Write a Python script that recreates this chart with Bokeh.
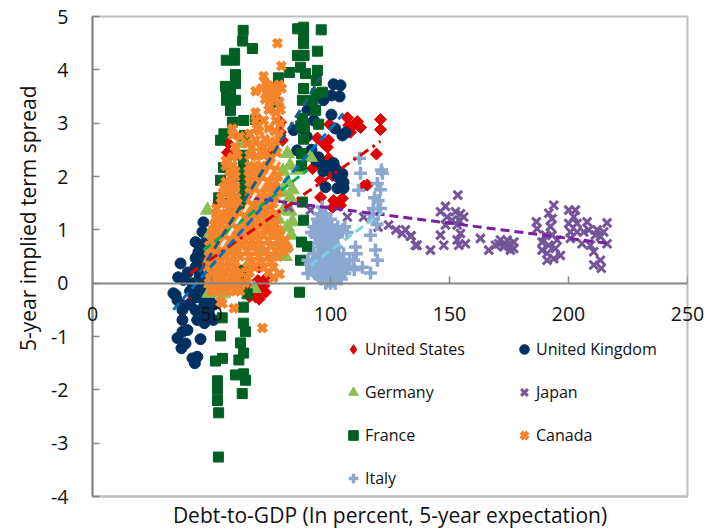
from bokeh.plotting import figure
from bokeh.models import LinearAxis, FixedTicker, Range1d, Legend, LegendItem, Title
from bokeh.embed import file_html
from bokeh.resources import INLINE

FONT = "Open Sans"

us = [(121,3.07),(121,2.88),(119.3,2.42),(107.1,3.1),(111.3,3.03),(112.6,2.92),(107.6,2.96),(108.4,2.83),(110,2.98),(99.6,2.98),
      (99.2,2.68),(98.7,2.55),(94.5,2.72),(97,2.62),(79,3.02),(79,2.83),(79.8,2.68),(74,2.43),(57.1,2.62),(56.7,2.45),(99.2,2.34),(101,2.2),
      (95.8,1.93),(95.8,1.61),(101.3,1.55),(105,1.59),(100.8,1.42),(104.2,1.46),(100.8,2.02),(115.5,1.84),(114,1.82),(92.4,2.15),
      (70.6,-0.13),(68.5,-0.26),(71.8,0.02),(69.5,0.05),(72.7,-0.17),(66,-0.1),(67,-0.2),(53,1.5),(47,0.0),(42,-0.3),(60,1.3),(75,1.0),(70,0.3),
      (66,-0.25),(70,-0.3),(72,-0.05),(73,0.1),(69,-0.05)]

uk = [(101.3,3.73),(104.2,3.71),(100.4,3.52),(103.8,3.5),(97,3.43),(90.3,3.24),(93,3.05),(100.4,3.16),(102,2.9),(105,2.77),(106.3,2.82),
      (84.5,2.87),(86,2.49),(95,2.36),(95.8,2.25),(101.3,2.25),(102,2.15),(97,2.1),(99,2.2),(103.4,1.99),(105.5,1.89),(102.9,1.78),(105.5,1.78),
      (97.9,1.8),(103,2.0),(105,2.05),(94,2.3),(92,2.5),(90,2.75),(88,2.9),
      (46.6,1.14),(46.2,0.96),(43.3,0.77),(47,0.75),(44.5,0.58),(37,0.37),(43.3,0.47),(43.3,0.3),(36,0.11),(38.2,0.06),(40,0.2),(34,-0.19),
      (35.7,-0.32),(37.8,-0.41),(41,-0.4),(37.8,-0.69),(44,-0.26),(43.3,-0.51),(45.4,-0.63),(47,-0.4),(46,-0.1),(48,0.1),(34.9,-0.22),
      (37.8,-0.5),(39.9,-0.88),(37.8,-0.91),(35.7,-1.03),(39.1,-1.13),(37.4,-1.22),(45.4,-1.05),(44,-1.38),(42,-1.41),(43,-1.5),(44,-0.69),
      (50.8,-0.69),(47,-0.75),(48,-0.55),(49,-0.3),(50,-0.05),
      (48,0.35),(47,0.55),(45,0.15),(42,0),(41,-0.15),(46,-0.25),(44,-0.05),(49,-0.6),(51,-0.4),(45,0.4)]

germany = [(48.3,1.37),(80.3,1.37),(81.9,1.05),(79,0.75),(81.9,2.43),(88.7,2.36),(91.6,2.36),(86,2.12),(83,2.2),(80,2.1),(49.6,0.94),(48.9,0.43),
           (48.9,-0.19),(49.6,0),(62,2.62),(69.3,1.6),(67,1.05),(75,1.6),(78,1.2),(76,0.9),(73,1.1),(71,0.6),(77,0.5),(50,0.65),(52,1.2),(53,0.2),
           (58,1.7),(83,1.6),(84,1.75),(82,1.9),(77,1.8),(60,0.1),(68,-0.1),(55,-0.2),(66,0.4),(72,2.0),
           (83,1.35),(84,1.15),(83.5,0.9),(81.5,0.7),(80,1.7),(81,0.5)]

japan = [(153.5,1.65),(148.3,1.44),(146.2,1.34),(149,1.24),(152.5,1.34),(154.6,1.3),(151.1,1.18),(153.9,1.18),(156,1.24),(148.3,1.09),(153.2,1.09),
         (154.6,.93),(146.2,.9),(147.6,.71),(153.9,.71),(156.7,.74),(153.2,.81),(142,.62),(136.4,.71),(133.9,.89),(131.5,1.0),(130.1,.93),
         (163,.84),(166.5,.62),(169.3,.71),(171.4,.81),(174.2,.81),(177,.77),(172.8,.68),(175.6,.62),(170.7,.74),(177,.65),(174.9,.71),
         (186.5,1.15),(186.8,1.02),(193.8,1.46),(191.7,1.31),(193.1,1.21),(192.4,1.06),(190.3,.9),(193.1,.9),(195.2,.81),(188.9,.77),(191.7,.71),
         (194.5,.65),(188.9,.62),(191,.56),(196.6,.52),(191,.43),(193.8,.46),(200.1,1.37),(202.9,1.37),(202.2,1.24),(200.1,1.12),(203.6,1.12),
         (200.8,.96),(203.6,.96),(200.8,.84),(207.8,1.15),(206.4,.96),(208.5,1.0),(205.7,.74),(216.2,1.13),(212,1.0),(214.8,.96),(213.4,.87),
         (211.3,.9),(216.2,.74),(210.6,.59),(213.4,.43),(210.6,.34),(213.8,.28),(209.2,.71),
         (124.4,1.09),(127.5,1.0),(133.6,.88),(135.7,.71),(107.1,1.24),(113.9,1.24),(82.4,1.42),(91.6,1.37),(73.5,1.37),(67.6,1.59),(120,1.05)]

france = [(63.3,4.74),(63.1,4.54),(67.2,4.4),(59.7,4.31),(56.2,4.18),(59.7,4.18),(60.1,3.91),(55.9,3.69),(60.1,3.74),(58,3.6),(56.3,3.55),(60.1,3.43),
          (56.3,3.43),(58,3.24),(63.5,3.05),(68.4,3.07),(58.8,3.02),(55.2,2.8),(53.8,2.68),(63.9,2.77),
          (86.2,4.77),(88.7,4.8),(96.1,4.75),(88.7,4.65),(88.7,4.49),(86.1,4.27),(88.9,4.27),(94.5,4.35),(87.4,4.05),(82.8,3.95),(89.5,3.93),(78.1,3.85),
          (94.5,3.99),(94,3.8),(88.7,3.65),(96.6,3.58),(94,3.55),(88.2,3.43),(92.5,3.43),(76.9,3.39),(93.7,3.24),(88.2,3.09),(87.5,2.95),(89,2.92),
          (95,2.98),(88.7,2.7),(87.8,2.43),(87.8,2.2),
          (88.2,1.52),(88.7,1.18),(87.8,0.77),(90.3,0.69),(87.4,0.43),(87,-0.17),(63,2.4),(63.5,2.2),(62.5,2.0),(64,1.8),(63,1.6),(64,1.4),(63.5,0.24),
          (64,0.1),(65,-0.2),(53,1.6),(55,2.17),(53.8,1.93),(58,1.5),
          (54.5,-0.65),(63.4,-0.45),(63.4,-0.75),(64.3,-0.91),(53.8,-0.99),(62.2,-1.12),(63.5,-1.31),(54.6,-1.41),(51.7,-1.46),(61.5,-1.44),(60.1,-1.72),
          (64.3,-1.82),(52.5,-1.83),(52.5,-2),(62.9,-2.07),(52.5,-2.2),(53,-2.43),(52.9,-3.26),(63.5,-1.7)]

canada = [(77.7,4.5),(79.4,4.07),(71.9,3.88),(72.6,3.75),(76,3.7),(78.5,3.72),(68.5,3.6),(71,3.65),(73.5,3.6),(75.5,3.55),(77.5,3.6),(79.5,3.65),
          (72.5,3.45),(74.5,3.4),(76.5,3.45),(78.5,3.4),(74,3.25),(77,3.2),(79,3.25),(68.5,3.2),(68.5,3.05),(69,2.9),(77,3.05),(79,3.0),(76.5,2.85),
          (78.5,2.8),(77,2.65),(75.5,2.55),(77.5,2.45),(75,2.35),(72,3.05),(74,2.9),(72.5,2.7),(74.5,2.65),
          (58.8,2.9),(58.8,2.78),(60,2.55),(65,2.62),(68.5,2.68),(70.6,2.55),(58.8,2.36),(61,2.4),(66,2.4),(69,2.38),(72,2.4),(56,2.3),
          (56,2.2),(59,2.2),(66,2.2),(68,2.2),(71,2.2),(74,2.2),(77,2.2),
          (57.5,2.1),(60,2.1),(65.5,2.1),(67,2.1),(70,2.1),(73,2.1),(76,2.1),
          (58,2.0),(60,2.0),(66,2.0),(69,2.0),(72,2.0),(75,2.0),(78,2.0),
          (56,1.9),(59,1.9),(66,1.9),(68,1.9),(71,1.9),(74,1.9),(77,1.9),
          (55,1.8),(57,1.8),(60,1.8),(67,1.8),(70,1.8),(73,1.8),(76,1.8),
          (55,1.7),(59,1.7),(66,1.7),(69,1.7),(72,1.7),(75,1.7),(78,1.7),
          (54,1.6),(58,1.6),(60.5,1.6),(66.5,1.6),(68,1.6),(71,1.6),(74,1.6),(77,1.6),
          (54,1.5),(56,1.5),(59,1.5),(61,1.5),(66,1.5),(68,1.5),(71,1.5),(73,1.5),(76,1.5),
          (52,1.4),(57,1.4),(60,1.4),(66,1.4),(69,1.4),(72,1.4),(75,1.4),
          (52,1.3),(54,1.3),(56,1.3),(59,1.3),(62,1.3),(65,1.3),(68,1.3),(71,1.3),(74,1.3),(77,1.3),
          (52,1.2),(55,1.2),(58,1.2),(61,1.2),(64,1.2),(67,1.2),(70,1.2),(73,1.2),(76,1.2),
          (51,1.1),(54,1.1),(57,1.1),(60,1.1),(63,1.1),(66,1.1),(69,1.1),(71,1.1),(74,1.1),(77,1.1),
          (50.5,1.0),(53,1.0),(56,1.0),(59,1.0),(62,1.0),(65,1.0),(68,1.0),(72,1.0),(75,1.0),(78,1.0),
          (50,.9),(52,.9),(54,.9),(57,.9),(60,.9),(63,.9),(66,.9),(69,.9),(72,.9),(76,.9),(79,.9),
          (50,0.8),(52,0.8),(55,0.8),(58,0.8),(61,0.8),(64,0.8),(67,0.8),(70,0.8),(74,0.8),(78,0.8),(81,0.8),
          (49,.7),(51,.7),(54,.7),(57,.7),(60,.7),(63,.7),(66,.7),(68,.7),(71,.7),(75,.7),(79,.7),
          (49,0.6),(52,0.6),(55,0.6),(58,0.6),(61,0.6),(65,0.6),(69,0.6),(73,0.6),(77,0.6),(80,0.6),(82,0.65),
          (49,.5),(51,.5),(53,.5),(56,.5),(59,.5),(62,.5),(66,.5),(70,.5),(74,.5),(78,.5),
          (49,0.4),(51,0.4),(54,0.4),(57,0.4),(60,0.4),(67,0.4),(71,0.4),(75,0.4),
          (48.5,.3),(51,.3),(54,.3),(57,.3),(60,.3),(65,.3),(68,.3),(72,.3),(76,.3),
          (50,0.2),(53,0.2),(56,0.2),(59,0.2),(62,0.2),(66,0.2),(74,0.2),(78.6,0.17),
          (49,.1),(52,.1),(55,.1),(58,.1),(61,.1),(65,.1),(76,.1),
          (49,0.0),(52,0.0),(55,0.0),(58,0.0),(61,0.0),(64,0.0),
          (50,-.05),(53,-.05),(56,-.05),(59,-.05),(62,-.05),
          (50,-0.15),(53,-0.15),(57,-0.15),(60,-0.15),(62,-0.15),
          (53.8,-0.35),(59.4,-0.47),(54.6,-0.38),(71.4,-0.84),
          (62,2.75),(66,2.8),(70,2.85),(67,2.55),(72,2.55)]

italy = [(96.5,1.43),(95.5,1.3),(98,1.3),(94.5,1.2),(97,1.2),(100,1.2),(93,1.06),(95.5,1.06),(98,1.06),(100.5,1.06),(103,1.06),(106,1.06),
         (92,.95),(95,.95),(98,.95),(101,.95),(104,.95),(107,.95),(94,.87),(97,.87),(100,.87),(103,.87),(95,.75),(98,.75),(101,.75),
         (95,.68),(97.5,.68),(100,.68),(102.5,.68),(93,.55),(96,.55),(99,.55),(102,.55),(105.5,.55),
         (90.5,.43),(93,.43),(96,.43),(99,.43),(102,.43),(105,.43),(108,.43),(92,.3),(95,.3),(98,.3),(101,.3),(104,.3),(107,.3),
         (90.5,.18),(93.5,.18),(97,.18),(100,.18),(103,.18),(106,.18),(96,.08),(99,.08),(102,.08),(104.5,.08),(98,0),(100,0),(102,0),
         (96,1.15),(98.5,1.15),(94,1.0),(97,1.0),(99.5,1.0),(102,1.0),(105,1.0),(93.5,.9),(96.5,.9),(99.5,.9),(102.5,.9),(96.5,.8),(99.5,.8),
         (96.5,.6),(99,.62),(101.5,.62),(94.5,.48),(97.5,.48),(100.5,.48),(103.5,.48),(91.5,.36),(94.5,.36),(97.5,.36),(100.5,.36),(103.5,.36),(106,.36),
         (92,.24),(95,.24),(98.5,.24),(101.5,.24),(104.5,.24),(95,.12),(98,.12),(101,.12),(103.5,.12),(99,.04),(101,.04),
         (112.6,2.06),(111.8,1.74),(112.2,2.34),(121.4,2.12),(121.8,2.06),(119.7,1.87),(121,1.75),(118.5,1.6),(120,1.55),(121,1.4),(118,1.4),
         (120,1.3),(118,1.2),(116.5,1.3),(119.5,1.1),(116.8,.9),(110.5,.68),(110.8,.55),(118.9,.62),(119.7,.43),(109.7,.43),(116.8,.19),
         (113.4,.3),(107,.3),(110,.25)]

trend_us_x, trend_us_y = [41, 121], [0.18, 2.66]
trend_uk_x, trend_uk_y = [34, 105.4], [-0.5, 3.18]
trend_germany_x, trend_germany_y = [46.6, 90.3], [0.62, 2.12]
trend_japan_x, trend_japan_y = [66.4, 216], [1.6, 0.75]
trend_france_x, trend_france_y = [45, 95.8], [0.2, 3.86]
trend_canada_x, trend_canada_y = [53.8, 77.7], [0.67, 2.3]
trend_italy_x, trend_italy_y = [91.6, 121.8], [0.34, 1.33]

x_ticks = [0, 50, 100, 150, 200, 250]
y_ticks = [-4, -3, -2, -1, 0, 1, 2, 3, 4, 5]

AXIS = "#868686"
LIGHT = "#BEBEBE"
TEXT = "#111111"

p = figure(frame_width=595, frame_height=480, x_range=Range1d(0, 250), y_range=Range1d(-4, 5),
           x_axis_location=None, y_axis_location=None, toolbar_location=None, output_backend="svg",
           min_border_left=92, min_border_right=25, min_border_top=16, min_border_bottom=33,
           background_fill_color="white", border_fill_color="white")
p.grid.visible = False
p.outline_line_color = LIGHT
p.outline_line_width = 2


def xs(d):
    return [a for a, _ in d]


def ys(d):
    return [b for _, b in d]


r_us = p.scatter(xs(us), ys(us), marker="square", angle=0.785, size=8.5, color="#E00000")
r_us_key = p.scatter(xs(us)[:1], ys(us)[:1], marker="diamond", size=1, color="#E00000")
r_uk = p.scatter(xs(uk), ys(uk), marker="circle", size=11, color="#00305F")
r_de = p.scatter(xs(germany), ys(germany), marker="triangle", size=14, color="#8CBF52")
r_jp = p.scatter(xs(japan), ys(japan), marker="x", size=12, fill_color=None, line_color="#75559A", line_width=3)
r_fr = p.scatter(xs(france), ys(france), marker="square", size=10, color="#006024")
r_ca = p.scatter(xs(canada), ys(canada), marker="x", size=11, fill_color=None, line_color="#F5842C", line_width=4.5)
r_it = p.scatter(xs(italy), ys(italy), marker="cross", size=13, fill_color=None, line_color="#8AA8D0", line_width=3.5)

dash = "9 5"
p.line(trend_us_x, trend_us_y, line_color="#E00000", line_width=3, line_dash="10 5 3 5")
p.line(trend_germany_x, trend_germany_y, line_color="#00B050", line_width=3, line_dash=dash)
p.line(trend_japan_x, trend_japan_y, line_color="#7A1FA2", line_width=3, line_dash=dash)
p.line(trend_france_x, trend_france_y, line_color="#156082", line_width=3, line_dash=dash)
p.line(trend_canada_x, trend_canada_y, line_color="#FBE5D0", line_width=3, line_dash=dash)
p.line(trend_italy_x, trend_italy_y, line_color="#7CD0E0", line_width=3, line_dash=dash)
p.line(trend_uk_x, trend_uk_y, line_color="#0070C0", line_width=3, line_dash=dash)

left = LinearAxis(ticker=FixedTicker(ticks=y_ticks))
left.axis_line_color = AXIS
left.axis_line_width = 2
left.major_tick_line_color = AXIS
left.major_tick_line_width = 1.5
left.major_tick_in = 7
left.major_tick_out = 0
left.minor_tick_line_color = None
left.major_label_text_font = FONT
left.major_label_text_font_size = "19.5px"
left.major_label_text_color = TEXT
left.major_label_standoff = 24
left.major_label_overrides = {t: str(t) for t in y_ticks}
p.add_layout(left, "left")

p.add_layout(Title(text="5-year implied term spread", align="right", offset=69, standoff=14,
                   text_font=FONT, text_font_size="21px", text_font_style="normal", text_color=TEXT), "left")

xzero = LinearAxis(ticker=FixedTicker(ticks=x_ticks), fixed_location=0)
xzero.axis_line_color = AXIS
xzero.axis_line_width = 2
xzero.major_tick_line_color = AXIS
xzero.major_tick_line_width = 1.5
xzero.major_tick_in = 7
xzero.major_tick_out = 0
xzero.minor_tick_line_color = None
xzero.major_label_text_color = None
p.add_layout(xzero, "below")

bottom = LinearAxis(ticker=FixedTicker(ticks=[]), axis_label="Debt-to-GDP (In percent, 5-year expectation)")
bottom.axis_line_color = LIGHT
bottom.axis_line_width = 2
bottom.major_tick_line_color = None
bottom.minor_tick_line_color = None
bottom.major_label_text_color = None
bottom.axis_label_text_font = FONT
bottom.axis_label_text_font_size = "21px"
bottom.axis_label_text_font_style = "normal"
bottom.axis_label_text_color = TEXT
bottom.axis_label_standoff = 4
p.add_layout(bottom, "below")

xlabels = LinearAxis(ticker=FixedTicker(ticks=x_ticks))
xlabels.axis_line_color = None
xlabels.major_tick_line_color = None
xlabels.minor_tick_line_color = None
xlabels.major_label_text_font = FONT
xlabels.major_label_text_font_size = "19.5px"
xlabels.major_label_text_color = TEXT
xlabels.major_label_standoff = -231
xlabels.level = "annotation"
p.add_layout(xlabels, "below")

legend = Legend(items=[LegendItem(label="United States", renderers=[r_us_key]),
                       LegendItem(label="Germany", renderers=[r_de]),
                       LegendItem(label="France", renderers=[r_fr]),
                       LegendItem(label="Italy", renderers=[r_it]),
                       LegendItem(label="United Kingdom", renderers=[r_uk]),
                       LegendItem(label="Japan", renderers=[r_jp]),
                       LegendItem(label="Canada", renderers=[r_ca])],
                ncols=2, location=(249, 6), orientation="vertical",
                border_line_color=None, background_fill_alpha=0,
                label_text_font=FONT, label_text_font_size="16px", label_text_color=TEXT,
                glyph_width=24, glyph_height=24, label_standoff=-3, label_width=128, label_height=24,
                spacing=19, padding=0, margin=0)
p.add_layout(legend, "center")

open("out.html", "w").write(file_html(p, INLINE))
